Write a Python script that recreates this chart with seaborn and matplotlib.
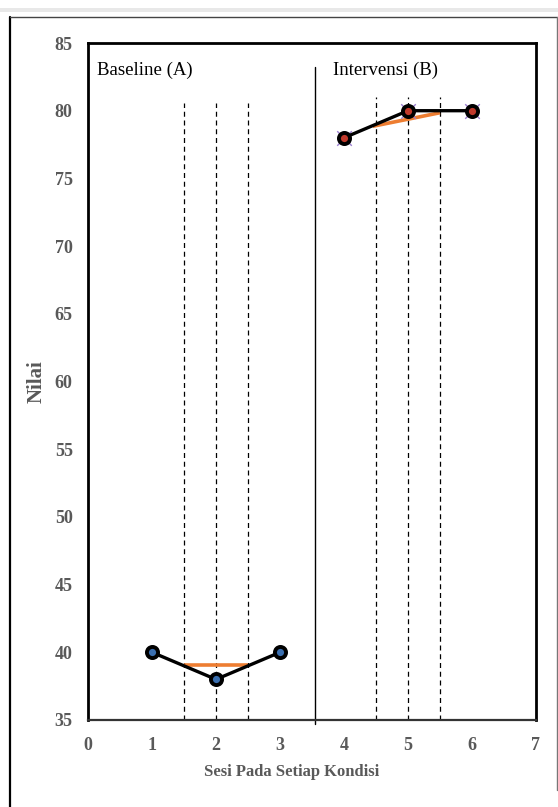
import matplotlib
matplotlib.use("Agg")
import matplotlib.pyplot as plt
import seaborn as sns
import pandas as pd
from matplotlib.lines import Line2D
from matplotlib.patches import Rectangle

# ---- data ----
baseline_sessions = [1, 2, 3]
baseline_values = [40, 38, 40]
intervention_sessions = [4, 5, 6]
intervention_values = [78, 80, 80]
baseline_trend_x = [1.5, 2.5]
baseline_trend_y = [39.05, 39.05]
intervention_trend_x = [4.45, 5.5]
intervention_trend_y = [78.85, 79.85]
baseline_guides = [1.5, 2.0, 2.5]
intervention_guides = [4.5, 5.0, 5.5]
phase_change = 3.55
x_ticks = [0, 1, 2, 3, 4, 5, 6, 7]
y_ticks = [35, 40, 45, 50, 55, 60, 65, 70, 75, 80, 85]
phase_labels = ["Baseline (A)", "Intervensi (B)"]

sns.set_theme(style="white")
plt.rcParams["font.family"] = ["Liberation Serif", "DejaVu Serif"]

W, H = 558, 807
fig = plt.figure(figsize=(W / 100, H / 100), dpi=100)
fig.patch.set_facecolor("white")

# decorative frame
fig.add_artist(Rectangle((0, 1 - 12 / H), 1, 4 / H, transform=fig.transFigure,
                         facecolor="#e8e8e8", edgecolor="none"))
fig.add_artist(Line2D([10 / W, 10 / W], [0, 1 - 17 / H], transform=fig.transFigure,
                      color="black", lw=1.6))
fig.add_artist(Line2D([10 / W, 557 / W], [1 - 17 / H, 1 - 17 / H], transform=fig.transFigure,
                      color="#444444", lw=1.0))
fig.add_artist(Line2D([556.5 / W, 556.5 / W], [1 - 17 / H, 17 / H], transform=fig.transFigure,
                      color="#777777", lw=1.0))

ax = fig.add_axes([88 / W, 87 / H, 448 / W, 677 / H])
ax.set_facecolor("white")

df_a = pd.DataFrame({"Sesi": baseline_sessions, "Nilai": baseline_values})
df_b = pd.DataFrame({"Sesi": intervention_sessions, "Nilai": intervention_values})

# guides
for gx, top in [(g, 80.6) for g in baseline_guides] + [(g, 81.0) for g in intervention_guides]:
    ax.plot([gx, gx], [35, top], color="black", lw=0.9, ls=(0, (4, 3)), zorder=1)

ax.plot([phase_change, phase_change], [34.7, 83.2], color="black", lw=1.0,
        clip_on=False, zorder=1)

# trend lines
ax.plot(baseline_trend_x, baseline_trend_y, color="#ED7D31", lw=2.6, zorder=2,
        solid_capstyle="butt")
ax.plot(intervention_trend_x, intervention_trend_y, color="#ED7D31", lw=2.6, zorder=2,
        solid_capstyle="butt")

# data
sns.lineplot(data=df_a, x="Sesi", y="Nilai", ax=ax, color="black", lw=2.4,
             marker="o", markersize=8, markerfacecolor="#3a6fb0",
             markeredgecolor="black", markeredgewidth=2.8, zorder=4)
sns.scatterplot(data=df_b, x="Sesi", y="Nilai", ax=ax, marker="x", s=110,
                color="#9b7fd0", linewidth=1.0, zorder=3)
sns.lineplot(data=df_b, x="Sesi", y="Nilai", ax=ax, color="black", lw=2.4,
             marker="o", markersize=8, markerfacecolor="#c0392b",
             markeredgecolor="black", markeredgewidth=2.8, zorder=4)

ax.set_xlim(0, 7)
ax.set_ylim(35, 85)
ax.set_xticks(x_ticks)
ax.set_yticks(y_ticks)
ax.set_xticklabels([str(v) for v in x_ticks])
ax.set_yticklabels([str(v) for v in y_ticks])
ax.tick_params(axis="both", length=0, labelsize=13, labelcolor="#595959")
ax.tick_params(axis="x", pad=12)
ax.tick_params(axis="y", pad=11)
for lab in ax.get_xticklabels() + ax.get_yticklabels():
    lab.set_fontweight("bold")

ax.set_xlabel("Sesi Pada Setiap Kondisi", fontsize=12, fontweight="bold",
              color="#595959")
ax.xaxis.set_label_coords((292 - 88) / 448, -(772 - 720) / 677)
ax.xaxis.label.set_va("center")
ax.set_ylabel("Nilai", fontsize=15, fontweight="bold", color="#595959", labelpad=6)

for name, sp in ax.spines.items():
    sp.set_visible(True)
    sp.set_color("black")
    sp.set_linewidth(2.0)
ax.spines["bottom"].set_color("#333333")
ax.spines["bottom"].set_linewidth(1.6)

ax.text(0.14, 83.0, phase_labels[0], fontsize=13.5, color="black", va="center", ha="left")
ax.text(3.83, 83.0, phase_labels[1], fontsize=13.5, color="black", va="center", ha="left")

ax.grid(False)
fig.savefig("out.png", dpi=100)
